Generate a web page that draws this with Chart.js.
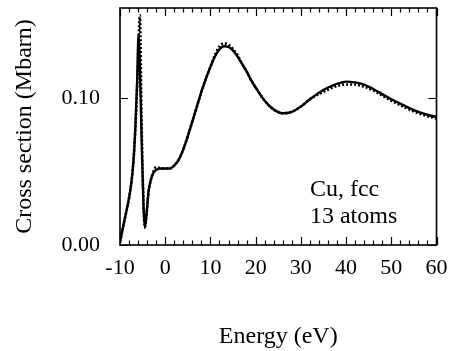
<!DOCTYPE html>
<html>
<head>
<meta charset="utf-8">
<script src="https://cdn.jsdelivr.net/npm/chart.js@4/dist/chart.umd.min.js"></script>
<style>
  html, body { margin: 0; padding: 0; background: #fff; }
  #wrap { width: 452px; height: 351px; }
</style>
</head>
<body>
<div id="wrap"><canvas id="c" width="452" height="351"></canvas></div>
<script>
// Energy grid (eV)
const energy = [-10, -9, -8, -7.5, -7, -6.6, -6.2, -5.9, -5.6, -5.2, -4.8, -4.5, -4.1, -3.7, -3.2, -2.6, -2, -1, 0, 1, 2, 3, 4, 5, 6, 7, 8, 9, 10, 11, 12, 13, 14, 15, 16, 17, 18, 19, 20, 22, 24, 26, 28, 30, 32, 34, 36, 38, 40, 42, 44, 46, 48, 50, 52, 54, 56, 58, 60];
// Solid curve (Mbarn)
const solidValues = [0.002, 0.017, 0.032, 0.042, 0.058, 0.080, 0.112, 0.143, 0.120, 0.070, 0.026, 0.012, 0.022, 0.036, 0.044, 0.049, 0.051, 0.052, 0.052, 0.052, 0.054, 0.058, 0.065, 0.074, 0.084, 0.094, 0.104, 0.113, 0.121, 0.128, 0.133, 0.135, 0.1345, 0.132, 0.128, 0.123, 0.118, 0.112, 0.107, 0.098, 0.092, 0.0895, 0.0905, 0.094, 0.099, 0.1035, 0.107, 0.1095, 0.111, 0.1105, 0.109, 0.106, 0.1025, 0.099, 0.096, 0.093, 0.0905, 0.0885, 0.087];
// Dotted curve (Mbarn)
const dottedValues = [0.002, 0.017, 0.032, 0.042, 0.058, 0.080, 0.108, 0.138, 0.156, 0.080, 0.028, 0.012, 0.022, 0.036, 0.044, 0.050, 0.053, 0.052, 0.052, 0.052, 0.054, 0.058, 0.065, 0.074, 0.084, 0.094, 0.104, 0.113, 0.121, 0.129, 0.135, 0.137, 0.136, 0.133, 0.129, 0.123, 0.118, 0.112, 0.107, 0.098, 0.092, 0.0895, 0.0905, 0.094, 0.099, 0.1025, 0.1055, 0.108, 0.109, 0.109, 0.1075, 0.105, 0.1015, 0.098, 0.095, 0.092, 0.0895, 0.0875, 0.086];
// Tick labels
const xTicks = [-10, 0, 10, 20, 30, 40, 50, 60];
const yTicks = [0.00, 0.10];
const xMinorStep = 2;
// Annotation lines
const noteLines = ["Cu, fcc", "13 atoms"];
const noteAnchor = { x: 32, y: [0.0374, 0.019] };

const serif = "'Liberation Serif', 'DejaVu Serif', serif";

const framePlugin = {
  id: 'frame',
  afterDatasetsDraw(chart) {
    const ctx = chart.ctx;
    const a = chart.chartArea;
    const xs = chart.scales.x, ys = chart.scales.y;
    ctx.save();
    ctx.strokeStyle = '#000';
    ctx.lineWidth = 1.6;
    ctx.strokeRect(a.left, a.top, a.right - a.left, a.bottom - a.top);
    ctx.lineWidth = 1.2;
    ctx.beginPath();
    for (let v = xs.min; v <= xs.max + 1e-9; v += xMinorStep) {
      const px = Math.round(xs.getPixelForValue(v)) + 0.5;
      const major = xTicks.includes(v);
      const len = major ? 8 : 4.5;
      ctx.moveTo(px, a.bottom); ctx.lineTo(px, a.bottom - len);
      ctx.moveTo(px, a.top); ctx.lineTo(px, a.top + len);
    }
    yTicks.forEach(v => {
      const py = Math.round(ys.getPixelForValue(v)) + 0.5;
      ctx.moveTo(a.left, py); ctx.lineTo(a.left + 8, py);
      ctx.moveTo(a.right, py); ctx.lineTo(a.right - 8, py);
    });
    ctx.stroke();
    // annotation
    ctx.fillStyle = '#000';
    ctx.font = "24px " + serif;
    ctx.textAlign = 'left';
    ctx.textBaseline = 'middle';
    noteLines.forEach((t, i) => {
      ctx.fillText(t, xs.getPixelForValue(noteAnchor.x), ys.getPixelForValue(noteAnchor.y[i]));
    });
    ctx.restore();
  }
};

const toPts = vals => energy.map((e, i) => ({ x: e, y: vals[i] }));

new Chart(document.getElementById('c'), {
  type: 'line',
  data: {
    datasets: [
      { data: toPts(solidValues), borderColor: '#000', borderWidth: 2.4, pointRadius: 0, cubicInterpolationMode: 'monotone', fill: false },
      { data: toPts(dottedValues), borderColor: '#000', borderWidth: 2.6, borderDash: [2, 2], pointRadius: 0, cubicInterpolationMode: 'monotone', fill: false }
    ]
  },
  options: {
    responsive: false,
    animation: false,
    devicePixelRatio: 1,
    layout: { autoPadding: false, padding: { top: 8, right: 15.5, left: 0, bottom: 0 } },
    plugins: { legend: { display: false }, tooltip: { enabled: false } },
    scales: {
      x: {
        type: 'linear', min: -10, max: 60,
        afterBuildTicks: s => { s.ticks = xTicks.map(v => ({ value: v })); },
        afterFit: s => { s.height = 106; s.paddingLeft = 0; s.paddingRight = 0; },
        grid: { display: false, drawTicks: false },
        border: { display: false },
        ticks: { color: '#000', font: { family: serif, size: 22 }, padding: 10, maxRotation: 0, autoSkip: false, callback: v => String(v) },
        title: { display: true, text: 'Energy (eV)', color: '#000', font: { family: serif, size: 24 }, padding: { top: 0, bottom: 0 } }
      },
      y: {
        type: 'linear', min: 0, max: 0.161,
        afterBuildTicks: s => { s.ticks = yTicks.map(v => ({ value: v })); },
        afterFit: s => { s.width = 120; s.paddingTop = 0; s.paddingBottom = 0; },
        grid: { display: false, drawTicks: false },
        border: { display: false },
        ticks: { color: '#000', font: { family: serif, size: 22 }, padding: 20, callback: v => Number(v).toFixed(2) },
        title: { display: true, text: 'Cross section (Mbarn)', color: '#000', font: { family: serif, size: 24 }, padding: { top: 10, bottom: 0 } }
      }
    }
  },
  plugins: [framePlugin]
});
</script>
</body>
</html>
